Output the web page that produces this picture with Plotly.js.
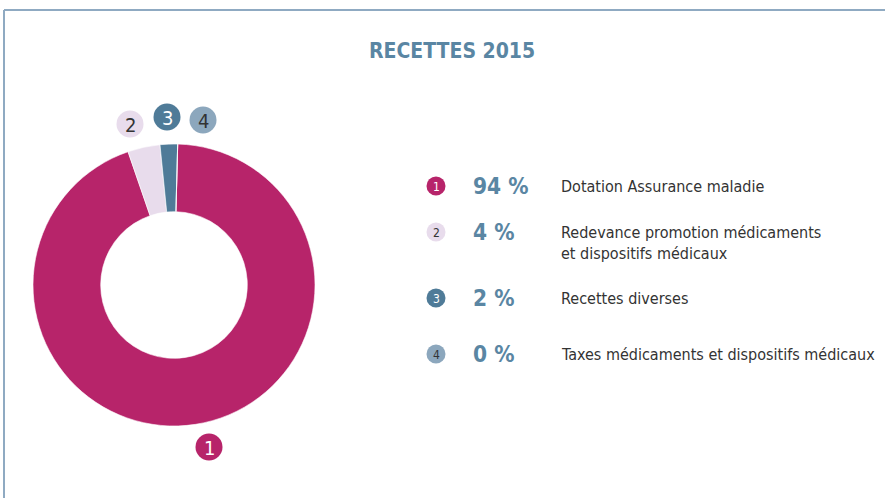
<!DOCTYPE html>
<html><head><meta charset="utf-8">
<script src="https://cdn.plot.ly/plotly-3.0.1.min.js"></script>
<style>html,body{margin:0;padding:0;background:#fff}</style>
</head><body><div id="chart" style="width:885px;height:498px"></div>
<script>
const ids = ['1','2','3','4'];
const categories = ['Dotation Assurance maladie','Redevance promotion médicaments<br>et dispositifs médicaux','Recettes diverses','Taxes médicaments et dispositifs médicaux'];
const values = [94.3, 3.7, 2.0, 0.0];
const colors = ['#B7246A','#E8DCEC','#4F7B98','#8CA7BD'];
const digitColors = ['#ffffff','#333333','#ffffff','#333333'];
const titleText = 'RECETTES 2015';

const W=885,H=498;
const FONT='"DejaVu Sans Condensed", sans-serif';
const blue='#5A86A3';
const px=x=>x/W, py=y=>1-y/H;

const cx=174, cy=285, R=141;
const shapes=[
 {type:'line',xref:'paper',yref:'paper',x0:px(4),x1:1,y0:py(10),y1:py(10),line:{color:'#8FAAC2',width:2}},
 {type:'line',xref:'paper',yref:'paper',x0:px(4),x1:px(4),y0:py(10),y1:0,line:{color:'#8FAAC2',width:2}}
];
const annotations=[];
function badge(x,y,r,i,fs){
  shapes.push({type:'circle',xref:'paper',yref:'paper',xsizemode:'pixel',ysizemode:'pixel',
    xanchor:px(x),yanchor:py(y),x0:-r,x1:r,y0:-r,y1:r,fillcolor:colors[i],line:{width:0}});
  annotations.push({xref:'paper',yref:'paper',x:px(x),y:py(y+0.5),text:ids[i],showarrow:false,
    xanchor:'center',yanchor:'middle',font:{family:FONT,size:fs,color:digitColors[i]}});
}
const pieBadges=[[209,447],[130,124],[167,117],[203,120]];
pieBadges.forEach((p,i)=>badge(p[0],p[1],13.5,i,20));
const rowY=[186,232,298,354];
const labelY=[186,243,298,354];
rowY.forEach((y,i)=>{
  badge(436,y,9.5,i,12);
  annotations.push({xref:'paper',yref:'paper',x:px(471),y:py(y),text:'<b>'+Math.round(values[i])+' %</b>',
    showarrow:false,xanchor:'left',yanchor:'middle',font:{family:FONT,size:22.5,color:blue}});
  annotations.push({xref:'paper',yref:'paper',x:px(559),y:py(labelY[i]),text:categories[i],align:'left',
    showarrow:false,xanchor:'left',yanchor:'middle',font:{family:FONT,size:16,color:'#333333'}});
});
annotations.push({xref:'paper',yref:'paper',x:px(452),y:py(51),text:'<b>'+titleText+'</b>',showarrow:false,
  xanchor:'center',yanchor:'middle',font:{family:FONT,size:21,color:blue}});

const trace={type:'pie',labels:ids,values:values,hole:0.52,sort:false,direction:'clockwise',rotation:1.5,
  marker:{colors:colors,line:{color:'#ffffff',width:0.6}},textinfo:'none',hoverinfo:'none',showlegend:false,
  domain:{x:[px(cx-R),px(cx+R)],y:[py(cy+R),py(cy-R)]}};

Plotly.newPlot('chart',[trace],{width:W,height:H,margin:{l:0,r:0,t:0,b:0},paper_bgcolor:'#fff',
  showlegend:false,shapes:shapes,annotations:annotations},{staticPlot:true});
</script></body></html>
